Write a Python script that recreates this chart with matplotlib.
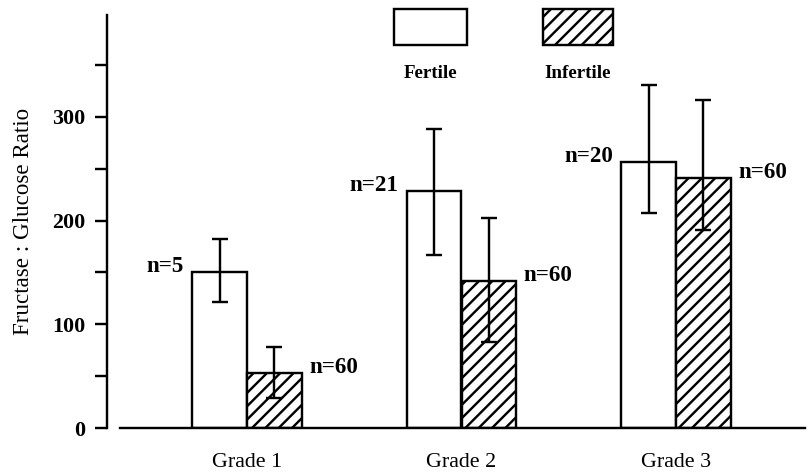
import matplotlib
matplotlib.use("Agg")
import matplotlib.pyplot as plt
from matplotlib.patches import Rectangle
from matplotlib.ticker import FixedLocator

# ---- data ----
grades = ["Grade 1", "Grade 2", "Grade 3"]
fertile = [150, 229, 257]
fertile_lo = [122, 167, 207]
fertile_hi = [182, 288, 331]
infertile = [53, 142, 241]
infertile_lo = [29, 83, 191]
infertile_hi = [78, 203, 316]
n_fertile = ["n=5", "n=21", "n=20"]
n_infertile = ["n=60", "n=60", "n=60"]
series_names = ["Fertile", "Infertile"]
yticks_major = [0, 100, 200, 300]
yticks_minor = [50, 150, 250, 350]

# ---- figure geometry ----
W, H, DPI = 808, 472, 160
def P(px):
    return px * 72.0 / DPI

plt.rcParams['font.family'] = ['Liberation Serif', 'DejaVu Serif']
plt.rcParams['hatch.linewidth'] = P(2.4)

fig = plt.figure(figsize=(W / DPI, H / DPI), dpi=DPI)
L, R, T, B = 107, 805, 15, 428
ax = fig.add_axes([L / W, 1 - B / H, (R - L) / W, (B - T) / H])

x = list(range(len(grades)))
width = 0.256
xs_f = [xi - width / 2 for xi in x]
xs_i = [xi + width / 2 for xi in x]

err_f = [[v - lo for v, lo in zip(fertile, fertile_lo)],
         [hi - v for v, hi in zip(fertile, fertile_hi)]]
err_i = [[v - lo for v, lo in zip(infertile, infertile_lo)],
         [hi - v for v, hi in zip(infertile, infertile_hi)]]

lw = P(2.4)
HATCH = '////'
ax.bar(xs_f, fertile, width, facecolor='white', edgecolor='black', linewidth=lw, zorder=2)
ax.bar(xs_i, infertile, width, facecolor='white', edgecolor='black', linewidth=lw,
       hatch=HATCH, zorder=2)
ax.errorbar(xs_f, fertile, yerr=err_f, fmt='none', ecolor='black', elinewidth=lw,
            capsize=P(8), capthick=lw, zorder=3)
ax.errorbar(xs_i, infertile, yerr=err_i, fmt='none', ecolor='black', elinewidth=lw,
            capsize=P(8), capthick=lw, zorder=3)

# n labels
for xf, v, t in zip(xs_f, fertile, n_fertile):
    ax.annotate(t, xy=(xf - width / 2, v), xytext=(-P(8), 0), textcoords='offset points',
                ha='right', va='baseline', fontsize=P(23), fontweight='bold')
for xi_, v, t in zip(xs_i, infertile, n_infertile):
    ax.annotate(t, xy=(xi_ + width / 2, v), xytext=(P(7), 0), textcoords='offset points',
                ha='left', va='baseline', fontsize=P(23), fontweight='bold')

# axes styling
px_per_unit = 214.5
ax.set_xlim((L - 247) / px_per_unit, (R - 247) / px_per_unit)
ax.set_ylim(0, (B - T) / 1.0367)
ax.spines['top'].set_visible(False)
ax.spines['right'].set_visible(False)
ax.spines['left'].set_linewidth(lw)
ax.spines['bottom'].set_linewidth(lw)
ax.spines['bottom'].set_bounds((120 - 247) / px_per_unit, (R - 247) / px_per_unit)

ax.yaxis.set_major_locator(FixedLocator(yticks_major))
ax.yaxis.set_minor_locator(FixedLocator(yticks_minor))
ax.tick_params(axis='y', which='both', direction='out', length=P(12), width=lw,
               pad=P(10), labelsize=P(22))
for lab in ax.get_yticklabels():
    lab.set_fontweight('bold')

ax.set_xticks(x)
ax.set_xticklabels(grades, fontsize=P(22))
ax.tick_params(axis='x', length=0, pad=P(25))

ax.set_ylabel("Fructase : Glucose Ratio", fontsize=P(23), labelpad=P(18))

# legend drawn above bars
def fx(px):
    return px / W
def fy(py):
    return 1 - py / H

leg_boxes = [(394, 467, None), (543, 613, HATCH)]
for (x0, x1, h), name in zip(leg_boxes, series_names):
    fig.patches.append(Rectangle((fx(x0), fy(45)), fx(x1) - fx(x0), fy(9) - fy(45),
                                 transform=fig.transFigure, facecolor='white',
                                 edgecolor='black', linewidth=lw, hatch=h))
    fig.text(fx((x0 + x1) / 2), fy(73), name, ha='center', va='center',
             fontsize=P(19), fontweight='bold')

fig.savefig("out.png", dpi=DPI)
